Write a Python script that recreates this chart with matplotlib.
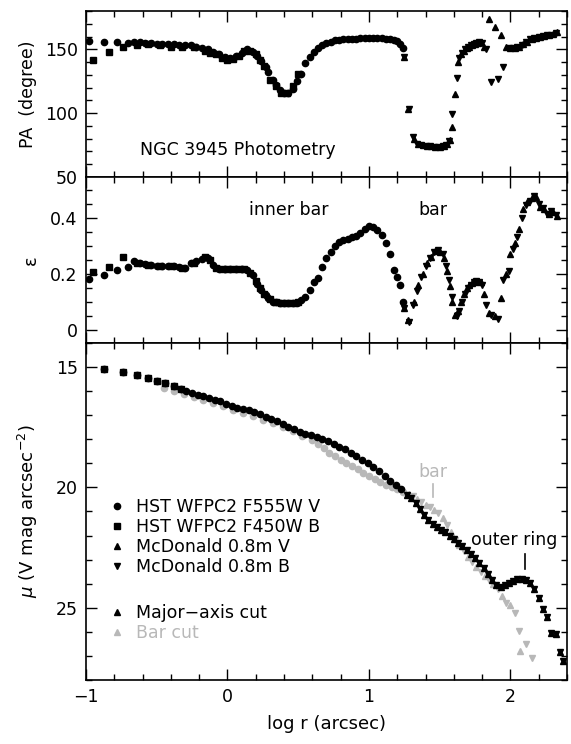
import matplotlib
matplotlib.use("Agg")
import matplotlib.pyplot as plt
from matplotlib.ticker import MultipleLocator, FuncFormatter
from matplotlib.lines import Line2D

plt.rcParams["font.family"] = "DejaVu Sans"
plt.rcParams["font.size"] = 12.5

# ---- isophote fits: HST WFPC2 F555W V (circles) ----
hst_v_x = [-0.98, -0.87, -0.78, -0.70, -0.66, -0.62, -0.58, -0.54, -0.50, -0.46, -0.42,
           -0.38, -0.34, -0.30, -0.26, -0.22, -0.18, -0.14, -0.10, -0.06, -0.02, 0.02,
           0.06, 0.10, 0.14, 0.18, 0.21, 0.24, 0.27, 0.29, 0.32, 0.34, 0.37, 0.40, 0.43,
           0.46, 0.49, 0.52, 0.55, 0.58, 0.61, 0.64, 0.67, 0.70, 0.73, 0.76, 0.79, 0.82,
           0.85, 0.88, 0.91, 0.94, 0.97, 1.00, 1.03, 1.06, 1.09, 1.12, 1.15, 1.18, 1.20,
           1.22, 1.24]
hst_v_pa = [156.5, 156, 155.5, 155, 156, 155.5, 155, 155, 154.5, 154.5, 154, 154, 153.5,
            153, 153, 152, 151, 150, 148, 146, 144, 143.5, 145, 147.5, 150, 148, 145, 141,
            136, 132, 126, 122, 118, 116, 116, 119, 125, 131, 139, 144, 148, 151, 153, 155,
            156, 157, 157.5, 158, 158, 158, 158, 158.5, 158.5, 159, 159, 159, 158.5, 158,
            158, 157.5, 156.5, 154.5, 151]
hst_v_eps = [0.181, 0.196, 0.214, 0.226, 0.247, 0.24, 0.234, 0.232, 0.23, 0.23, 0.23, 0.228,
             0.225, 0.22, 0.238, 0.245, 0.252, 0.256, 0.232, 0.218, 0.218, 0.218, 0.218,
             0.218, 0.215, 0.195, 0.165, 0.143, 0.124, 0.114, 0.102, 0.099, 0.098, 0.097,
             0.097, 0.097, 0.098, 0.108, 0.12, 0.145, 0.17, 0.185, 0.225, 0.256, 0.28, 0.3,
             0.315, 0.32, 0.325, 0.33, 0.337, 0.347, 0.36, 0.37, 0.368, 0.356, 0.34, 0.31,
             0.27, 0.215, 0.19, 0.16, 0.1]

# ---- HST WFPC2 F450W B (squares) ----
hst_b_x = [-0.95, -0.84, -0.74, -0.64, -0.56, -0.48, -0.40, -0.32, -0.24, -0.16, -0.12,
           -0.08, -0.04, 0.00, 0.04, 0.08, 0.12, 0.16, 0.20, 0.23, 0.26, 0.30, 0.34, 0.38,
           0.42, 0.46, 0.50]
hst_b_pa = [141.5, 148, 152, 153.5, 154, 153, 152, 152, 151.5, 149, 147, 146, 143, 142,
            142.5, 145, 148.5, 149, 146.5, 142, 137, 126, 121, 116, 116, 121, 131]
hst_b_eps = [0.208, 0.226, 0.262, 0.24, 0.233, 0.23, 0.228, 0.222, 0.24, 0.262, 0.25, 0.222,
             0.218, 0.218, 0.218, 0.218, 0.218, 0.205, 0.175, 0.15, 0.13, 0.11, 0.099, 0.098,
             0.097, 0.097, 0.1]

# ---- McDonald 0.8m V (up triangles) ----
mcd_v_x = [1.25, 1.275, 1.32, 1.35, 1.38, 1.41, 1.44, 1.47, 1.50, 1.53, 1.555, 1.575, 1.59,
           1.61, 1.63, 1.65, 1.67, 1.69, 1.71, 1.73, 1.75, 1.77, 1.79, 1.81, 1.85, 1.89,
           1.93, 1.97, 2.00, 2.03, 2.06, 2.09, 2.12, 2.15, 2.18, 2.21, 2.24, 2.27, 2.30, 2.33]
mcd_v_pa = [144, 103, 80, 76, 75, 74, 74, 73.5, 73.5, 74, 75.5, 79, 89, 115, 140, 146, 149,
            151, 152, 153, 154, 155, 156, 152, 174, 167.5, 161, 152, 151, 151, 152, 154, 156,
            158, 159, 160, 160.5, 161, 162, 163.5]
mcd_v_eps = [0.08, 0.035, 0.1, 0.16, 0.2, 0.238, 0.262, 0.283, 0.28, 0.257, 0.21, 0.158, 0.1,
             0.053, 0.07, 0.1, 0.13, 0.15, 0.16, 0.168, 0.173, 0.175, 0.17, 0.13, 0.06, 0.05,
             0.115, 0.2, 0.27, 0.31, 0.36, 0.43, 0.455, 0.47, 0.475, 0.44, 0.43, 0.415, 0.42,
             0.405]

# ---- McDonald 0.8m B (down triangles) ----
mcd_b_x = [1.25, 1.28, 1.31, 1.34, 1.37, 1.40, 1.43, 1.46, 1.49, 1.52, 1.545, 1.565, 1.585,
           1.62, 1.64, 1.66, 1.68, 1.70, 1.72, 1.74, 1.76, 1.78, 1.80, 1.83, 1.86, 1.91,
           1.95, 1.99, 2.02, 2.05, 2.08, 2.11, 2.14, 2.17, 2.20, 2.23, 2.26, 2.29, 2.32]
mcd_b_pa = [144, 103, 81, 76, 75, 74.5, 74, 73.5, 73.5, 74, 75, 78, 99, 127.5, 143, 147, 150,
            152, 153, 154, 155, 155.5, 155, 150, 124.5, 127, 136, 151, 151, 152, 153, 156,
            158, 159, 160, 160.5, 161, 161.5, 163]
mcd_b_eps = [0.08, 0.03, 0.09, 0.14, 0.19, 0.23, 0.258, 0.28, 0.285, 0.27, 0.23, 0.18, 0.12,
             0.05, 0.07, 0.1, 0.13, 0.15, 0.16, 0.17, 0.175, 0.173, 0.16, 0.09, 0.053, 0.04,
             0.18, 0.21, 0.29, 0.33, 0.4, 0.445, 0.46, 0.478, 0.45, 0.435, 0.415, 0.425, 0.41]

# ---- surface brightness: major-axis cut ----
maj_hst_x = [-0.87, -0.74, -0.64, -0.56, -0.50, -0.44, -0.38, -0.33, -0.29, -0.25, -0.21,
             -0.17, -0.13, -0.09, -0.05, -0.01, 0.03, 0.07, 0.11, 0.15, 0.19, 0.23, 0.27,
             0.31, 0.35, 0.39, 0.43, 0.47, 0.51, 0.55, 0.59, 0.63, 0.67, 0.71, 0.75, 0.79,
             0.83, 0.87, 0.91, 0.95, 0.99, 1.03, 1.07, 1.11, 1.15, 1.19, 1.23]
maj_hst_mu = [15.1, 15.22, 15.33, 15.47, 15.57, 15.68, 15.79, 15.9, 15.99, 16.06, 16.14,
              16.21, 16.28, 16.35, 16.43, 16.53, 16.61, 16.68, 16.74, 16.8, 16.88, 16.97,
              17.06, 17.15, 17.25, 17.38, 17.48, 17.58, 17.68, 17.76, 17.83, 17.9, 17.98,
              18.08, 18.18, 18.3, 18.42, 18.55, 18.68, 18.84, 19.0, 19.16, 19.33, 19.52,
              19.72, 19.9, 20.08]
maj_mcd_x = [1.27, 1.30, 1.33, 1.36, 1.39, 1.42, 1.45, 1.48, 1.51, 1.54, 1.57, 1.60, 1.63,
             1.66, 1.69, 1.72, 1.75, 1.78, 1.81, 1.84, 1.87, 1.90, 1.93, 1.96, 1.99, 2.02,
             2.05, 2.08, 2.11, 2.14, 2.17, 2.20, 2.23, 2.26, 2.29, 2.32, 2.35, 2.37]
maj_mcd_mu = [20.3, 20.45, 20.65, 20.9, 21.15, 21.35, 21.5, 21.63, 21.75, 21.87, 22.0, 22.15,
              22.3, 22.45, 22.6, 22.75, 22.95, 23.15, 23.35, 23.6, 23.85, 24.05, 24.12, 24.05,
              23.95, 23.88, 23.82, 23.8, 23.83, 23.95, 24.2, 24.6, 25.05, 25.4, 26.05, 26.1,
              26.85, 27.2]

# ---- surface brightness: bar cut ----
bar_hst_x = [-0.45, -0.38, -0.31, -0.24, -0.17, -0.10, -0.03, 0.04, 0.11, 0.18, 0.25, 0.32,
             0.39, 0.46, 0.53, 0.60, 0.64, 0.68, 0.72, 0.76, 0.80, 0.84, 0.88, 0.92, 0.96,
             1.00, 1.04, 1.08, 1.12, 1.16, 1.20, 1.24]
bar_hst_mu = [15.85, 15.98, 16.1, 16.23, 16.36, 16.5, 16.63, 16.77, 16.9, 17.04, 17.18, 17.33,
              17.5, 17.67, 17.85, 18.04, 18.2, 18.38, 18.55, 18.7, 18.85, 18.98, 19.1, 19.25,
              19.38, 19.52, 19.66, 19.78, 19.9, 20.0, 20.08, 20.18]
bar_v_x = [1.28, 1.34, 1.40, 1.46, 1.52, 1.58, 1.64, 1.70, 1.76, 1.82, 1.88, 1.94, 2.00, 2.07]
bar_v_mu = [20.28, 20.47, 20.72, 20.92, 21.25, 21.85, 22.4, 22.9, 23.32, 23.66, 24.02, 24.5,
            24.9, 26.79]
bar_b_x = [1.31, 1.37, 1.43, 1.49, 1.55, 1.61, 1.67, 1.73, 1.79, 1.85, 1.91, 1.97, 2.03, 2.06,
           2.11, 2.15]
bar_b_mu = [20.37, 20.6, 20.82, 21.05, 21.55, 22.2, 22.66, 23.1, 23.5, 23.84, 24.22, 24.8,
            25.2, 25.96, 26.5, 27.1]

GRAY = "#b8b8b8"

fig = plt.figure(figsize=(5.71, 7.44), dpi=100)
ax_pa = fig.add_axes([0.1506, 0.7621, 0.8424, 0.2231])
ax_e = fig.add_axes([0.1506, 0.5390, 0.8424, 0.2231])
ax_mu = fig.add_axes([0.1506, 0.0860, 0.8424, 0.4530])

ms_c, ms_t = 4.5, 5.0
kw = dict(ls="none", color="k", mec="k")

# PA
ax_pa.plot(hst_v_x, hst_v_pa, "o", ms=ms_c, **kw)
ax_pa.plot(hst_b_x, hst_b_pa, "s", ms=ms_c - 0.3, **kw)
ax_pa.plot(mcd_v_x, mcd_v_pa, "^", ms=ms_t, **kw)
ax_pa.plot(mcd_b_x, mcd_b_pa, "v", ms=ms_t, **kw)

# ellipticity
ax_e.plot(hst_v_x, hst_v_eps, "o", ms=ms_c, **kw)
ax_e.plot(hst_b_x, hst_b_eps, "s", ms=ms_c - 0.3, **kw)
ax_e.plot(mcd_v_x, mcd_v_eps, "^", ms=ms_t, **kw)
ax_e.plot(mcd_b_x, mcd_b_eps, "v", ms=ms_t, **kw)

# surface brightness (bar cut under major axis)
gkw = dict(ls="none", color=GRAY, mec=GRAY)
ax_mu.plot(bar_hst_x, bar_hst_mu, "o", ms=ms_c, **gkw)
ax_mu.plot(bar_v_x, bar_v_mu, "^", ms=ms_t, **gkw)
ax_mu.plot(bar_b_x, bar_b_mu, "v", ms=ms_t, **gkw)
ax_mu.plot(maj_hst_x, maj_hst_mu, "o", ms=ms_c, **kw)
ax_mu.plot(maj_hst_x[:8], maj_hst_mu[:8], "s", ms=ms_c + 0.5, **kw)
ax_mu.plot(maj_mcd_x, maj_mcd_mu, "^", ms=ms_t, **kw)
ax_mu.plot(maj_mcd_x, maj_mcd_mu, "v", ms=ms_t, **kw)

# axes limits and ticks
ax_pa.set_ylim(50, 180)
ax_pa.yaxis.set_major_locator(MultipleLocator(50))
ax_pa.yaxis.set_minor_locator(MultipleLocator(10))
ax_e.set_ylim(-0.045, 0.545)
ax_e.yaxis.set_major_locator(MultipleLocator(0.2))
ax_e.yaxis.set_minor_locator(MultipleLocator(0.05))
ax_e.yaxis.set_major_formatter(FuncFormatter(lambda v, p: "%g" % round(v, 2)))
ax_mu.set_ylim(28, 14)
ax_mu.yaxis.set_major_locator(MultipleLocator(5))
ax_mu.yaxis.set_minor_locator(MultipleLocator(1))

for ax in (ax_pa, ax_e, ax_mu):
    ax.set_xlim(-1, 2.4)
    ax.xaxis.set_major_locator(MultipleLocator(1))
    ax.xaxis.set_minor_locator(MultipleLocator(0.2))
    ax.tick_params(which="both", direction="in", top=True, right=True, width=1.0,
                   labelsize=12.5, pad=6)
    ax.tick_params(which="major", length=8)
    ax.tick_params(which="minor", length=4)
    for s in ax.spines.values():
        s.set_linewidth(1.2)
for ax in (ax_pa, ax_e):
    ax.tick_params(labelbottom=False)

ax_pa.set_ylabel("PA  (degree)", fontsize=12.5)
ax_e.set_ylabel("ε", fontsize=13)
ax_mu.set_ylabel(r"$\mu$ (V mag arcsec$^{-2}$)", fontsize=13)
ax_mu.set_xlabel("log r (arcsec)", fontsize=13, labelpad=6)
ax_pa.yaxis.set_label_coords(-0.102, 0.5)
ax_e.yaxis.set_label_coords(-0.095, 0.5)
ax_mu.yaxis.set_label_coords(-0.095, 0.5)

# annotations
ax_pa.text(0.07, 71.5, "NGC 3945 Photometry", ha="center", va="center", fontsize=12.5)
ax_e.text(0.43, 0.427, "inner bar", ha="center", va="center", fontsize=12.5)
ax_e.text(1.45, 0.427, "bar", ha="center", va="center", fontsize=12.5)
ax_mu.text(1.45, 19.36, "bar", ha="center", va="center", fontsize=12.5, color=GRAY)
ax_mu.plot([1.45, 1.45], [19.85, 20.4], color=GRAY, lw=1.2)
ax_mu.text(2.03, 22.2, "outer ring", ha="center", va="center", fontsize=12.5)
ax_mu.plot([2.10, 2.10], [22.75, 23.38], color="k", lw=1.2)

# legends
h1 = [Line2D([], [], marker=m, ls="none", color="k", ms=4.5) for m in "os^v"]
leg1 = ax_mu.legend(h1, ["HST WFPC2 F555W V", "HST WFPC2 F450W B",
                         "McDonald 0.8m V", "McDonald 0.8m B"],
                    loc="upper left", bbox_to_anchor=(0.05, 0.54), frameon=False,
                    handlelength=0.8, handletextpad=0.7, labelspacing=0.12,
                    borderpad=0, borderaxespad=0, fontsize=12.5)
ax_mu.add_artist(leg1)
h2 = [Line2D([], [], marker="^", ls="none", color=c, ms=4.5) for c in ("k", GRAY)]
leg2 = ax_mu.legend(h2, ["Major\u2212axis cut", "Bar cut"],
                    loc="upper left", bbox_to_anchor=(0.05, 0.225), frameon=False,
                    handlelength=0.8, handletextpad=0.7, labelspacing=0.12,
                    borderpad=0, borderaxespad=0, fontsize=12.5)
leg2.get_texts()[1].set_color(GRAY)

fig.savefig("out.png", dpi=100)
